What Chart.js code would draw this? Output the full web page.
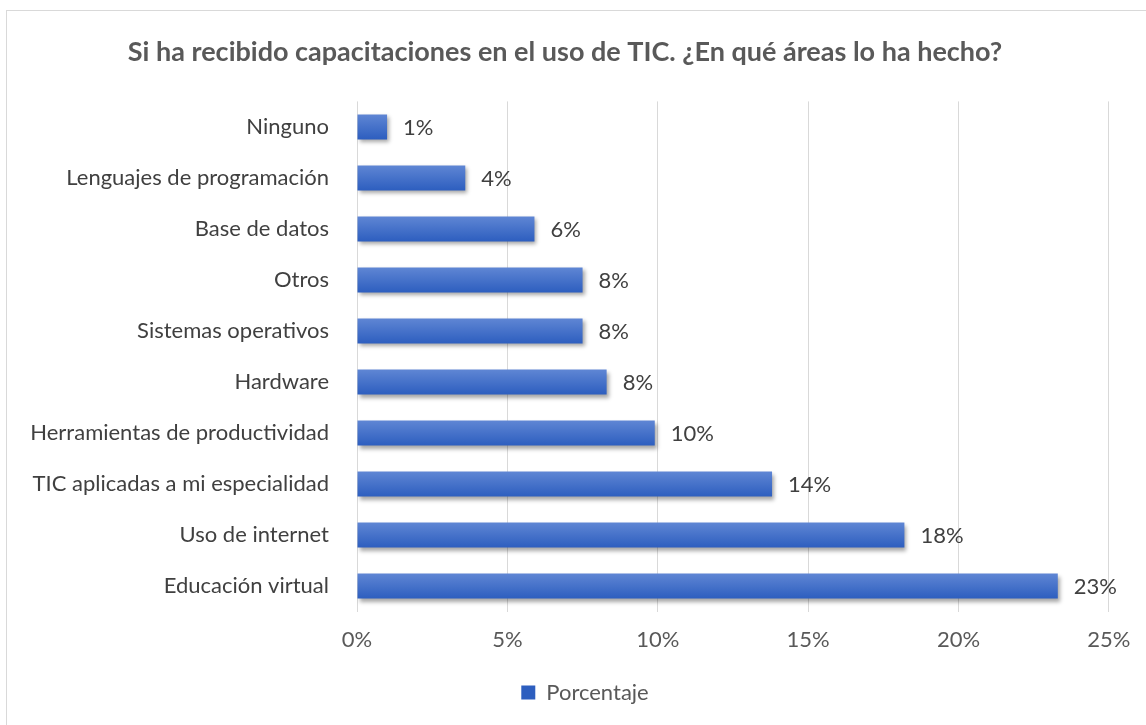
<!DOCTYPE html>
<html>
<head>
<meta charset="utf-8">
<script src="https://cdn.jsdelivr.net/npm/chart.js@4"></script>
<style>
  html, body { margin: 0; padding: 0; background: #fff; }
  #frame { position: absolute; left: 6px; top: 10px; width: 1150px; height: 730px; border: 1px solid #d9d9d9; }
  #wrap { position: absolute; left: 0; top: 0; width: 1146px; height: 725px; }
</style>
</head>
<body>
<div id="frame"></div>
<div id="wrap"><canvas id="chart"></canvas></div>
<script>
// datos
const categories = ['Ninguno', 'Lenguajes de programación', 'Base de datos', 'Otros', 'Sistemas operativos',
  'Hardware', 'Herramientas de productividad', 'TIC aplicadas a mi especialidad', 'Uso de internet', 'Educación virtual'];
const porcentaje = [1.0, 3.6, 5.9, 7.5, 7.5, 8.3, 9.9, 13.8, 18.2, 23.3];
const xTicks = [0, 5, 10, 15, 20, 25];

const FONT = 'Lato';

// sombra de las barras + etiquetas de datos; leyenda un poco a la derecha
const barExtras = {
  id: 'barExtras',
  afterLayout(chart) {
    if (chart.legend) {
      chart.legend.left += 20;
      chart.legend.right += 20;
    }
  },
  beforeDatasetsDraw(chart) {
    const ctx = chart.ctx;
    ctx.save();
    ctx.shadowColor = 'rgba(0,0,0,0.35)';
    ctx.shadowBlur = 4;
    ctx.shadowOffsetX = 2;
    ctx.shadowOffsetY = 3;
  },
  afterDatasetsDraw(chart) {
    const ctx = chart.ctx;
    ctx.restore();
    ctx.save();
    ctx.font = '22px ' + FONT;
    ctx.fillStyle = '#404040';
    ctx.textBaseline = 'middle';
    ctx.textAlign = 'left';
    chart.getDatasetMeta(0).data.forEach((bar, i) => {
      ctx.fillText(Math.round(porcentaje[i]) + '%', bar.x + 16, bar.y + 1);
    });
    ctx.restore();
  }
};

function barColor(context) {
  if (context.type !== 'data') return '#3f6ec6';
  const chart = context.chart;
  const y = chart.scales.y ? chart.scales.y.getPixelForValue(context.dataIndex) : NaN;
  if (!isFinite(y)) return '#3f6ec6';
  const g = chart.ctx.createLinearGradient(0, y - 12.5, 0, y + 12.5);
  g.addColorStop(0, '#5f86d4');
  g.addColorStop(1, '#2d5ebf');
  return g;
}

new Chart(document.getElementById('chart'), {
  type: 'bar',
  data: {
    labels: categories,
    datasets: [{
      label: 'Porcentaje',
      data: porcentaje,
      backgroundColor: barColor,
      borderWidth: 0,
      barPercentage: 0.5,
      categoryPercentage: 0.98
    }]
  },
  options: {
    indexAxis: 'y',
    responsive: true,
    maintainAspectRatio: false,
    animation: false,
    layout: { padding: { left: 20, right: 36, top: 0, bottom: 11.5 } },
    scales: {
      x: {
        min: 0,
        max: 25,
        afterBuildTicks(scale) { scale.ticks = xTicks.map(v => ({ value: v })); },
        ticks: {
          callback: v => v + '%',
          color: '#595959',
          font: { family: FONT, size: 22 },
          padding: 15.5
        },
        grid: { color: '#d9d9d9', drawTicks: false },
        border: { display: false }
      },
      y: {
        afterFit(scale) { scale.width = 337; },
        ticks: {
          color: '#404040',
          font: { family: FONT, size: 22 },
          padding: 28
        },
        grid: { display: false, drawTicks: false },
        border: { display: false }
      }
    },
    plugins: {
      title: {
        display: true,
        text: 'Si ha recibido capacitaciones en el uso de TIC. ¿En qué áreas lo ha hecho?',
        color: '#595959',
        font: { family: FONT, size: 27, weight: 'bold' },
        padding: { top: 36, bottom: 33 }
      },
      legend: {
        position: 'bottom',
        labels: {
          color: '#595959',
          font: { family: FONT, size: 22 },
          boxWidth: 14,
          boxHeight: 14,
          padding: 12.5
        }
      },
      tooltip: { enabled: false }
    }
  },
  plugins: [barExtras]
});
</script>
</body>
</html>
